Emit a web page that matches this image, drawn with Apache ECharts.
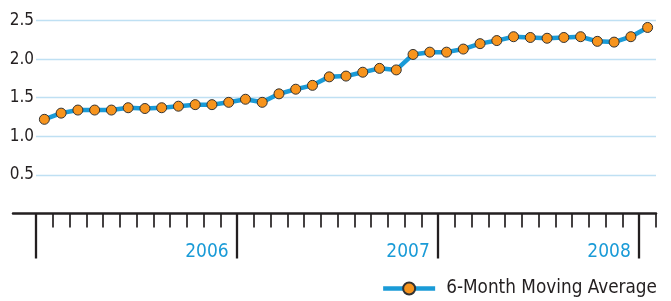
<!DOCTYPE html>
<html>
<head>
<meta charset="utf-8">
<title>6-Month Moving Average</title>
<script src="https://cdn.jsdelivr.net/npm/echarts@6/dist/echarts.min.js"></script>
<style>
    html, body { margin: 0; padding: 0; background: #fff; }
    #chartDiv { width: 671px; height: 301px; }
</style>
</head>
<body>
<div id="chartDiv"></div>
<script>
var months = [
    'Jan 2006','Feb 2006','Mar 2006','Apr 2006','May 2006','Jun 2006',
    'Jul 2006','Aug 2006','Sep 2006','Oct 2006','Nov 2006','Dec 2006',
    'Jan 2007','Feb 2007','Mar 2007','Apr 2007','May 2007','Jun 2007',
    'Jul 2007','Aug 2007','Sep 2007','Oct 2007','Nov 2007','Dec 2007',
    'Jan 2008','Feb 2008','Mar 2008','Apr 2008','May 2008','Jun 2008',
    'Jul 2008','Aug 2008','Sep 2008','Oct 2008','Nov 2008','Dec 2008',
    'Jan 2009'
];
var movingAvg = [
    1.22, 1.30, 1.34, 1.34, 1.34, 1.37, 1.36, 1.37, 1.39, 1.41, 1.41, 1.44,
    1.48, 1.44, 1.55, 1.61, 1.66, 1.77, 1.78, 1.83, 1.88, 1.86, 2.06, 2.09,
    2.09, 2.13, 2.20, 2.24, 2.29, 2.28, 2.27, 2.28, 2.29, 2.23, 2.22, 2.29,
    2.41
];
var yTicks = [0.5, 1.0, 1.5, 2.0, 2.5];
var seriesName = '6-Month Moving Average';

var narrowFont = '"Liberation Sans Narrow", "DejaVu Sans Condensed", "Roboto", sans-serif';
var ink = '#231f20';
var blue = '#1a9bd7';

// tick boundaries between months (one more than the months)
var bounds = months.concat(['']);

function tickAxis(gridIndex, len, width, interval) {
    return {
        type: 'category',
        gridIndex: gridIndex,
        position: 'bottom',
        boundaryGap: false,
        data: bounds,
        axisLine: { show: false },
        axisTick: { show: true, length: len, interval: interval, lineStyle: { color: ink, width: width } },
        axisLabel: { show: false },
        splitLine: { show: false }
    };
}

function drawChart() {
    var option = {
        animation: false,
        grid: [
            { left: 36, right: 15, top: 20.5, bottom: 87.5 },
            // only used to run the axis line out past the first tick
            { left: 13, right: 15, top: 20.5, bottom: 87.5 },
            // month ticks
            { left: 36, right: 15, top: 20.5, bottom: 87.5 },
            // year ticks
            { left: 36, right: 15, top: 20.5, bottom: 87.5 }
        ],
        legend: {
            right: 14,
            top: 279,
            padding: 0,
            itemWidth: 52,
            itemHeight: 15,
            lineStyle: { width: 4.5 },
            textStyle: { fontFamily: narrowFont, fontSize: 18.8, color: ink, padding: [0, 0, 0, 6] },
            data: [seriesName]
        },
        xAxis: [
            {
                type: 'category',
                gridIndex: 0,
                data: months,
                axisLine: { show: false },
                axisTick: { show: false },
                axisLabel: {
                    interval: 0,
                    margin: 29,
                    align: 'right',
                    fontFamily: narrowFont,
                    fontSize: 19,
                    color: blue,
                    formatter: function (v) {
                        return v.indexOf('Dec') === 0 ? v.slice(4) : '';
                    }
                },
                splitLine: { show: false }
            },
            {
                type: 'value',
                gridIndex: 1,
                min: 0,
                max: 1,
                axisLine: { onZero: false, lineStyle: { color: ink, width: 2.5 } },
                axisTick: { show: false },
                axisLabel: { show: false },
                splitLine: { show: false }
            },
            tickAxis(2, 14, 1.7, 0),
            tickAxis(3, 45, 2.3, function (index) { return index % 12 === 0; })
        ],
        yAxis: [
            {
                type: 'value',
                gridIndex: 0,
                min: 0,
                max: yTicks[yTicks.length - 1],
                interval: yTicks[1] - yTicks[0],
                axisLine: { show: false },
                axisTick: { show: false },
                axisLabel: {
                    margin: 2,
                    fontFamily: narrowFont,
                    fontSize: 17,
                    color: ink,
                    formatter: function (v) {
                        return yTicks.indexOf(v) > -1 ? v.toFixed(1) : '';
                    }
                },
                splitLine: { showMinLine: false, lineStyle: { color: '#bfe0f3', width: 1.3 } }
            },
            { type: 'value', gridIndex: 1, show: false },
            { type: 'value', gridIndex: 2, show: false },
            { type: 'value', gridIndex: 3, show: false }
        ],
        series: [
            {
                name: seriesName,
                type: 'line',
                xAxisIndex: 0,
                yAxisIndex: 0,
                data: movingAvg,
                symbol: 'circle',
                symbolSize: 10,
                lineStyle: { color: blue, width: 4.5 },
                itemStyle: { color: '#f7941d', borderColor: '#333', borderWidth: 1 }
            }
        ]
    };

    var chart = echarts.init(document.getElementById('chartDiv'));
    chart.setOption(option);
}

drawChart();
</script>
</body>
</html>
